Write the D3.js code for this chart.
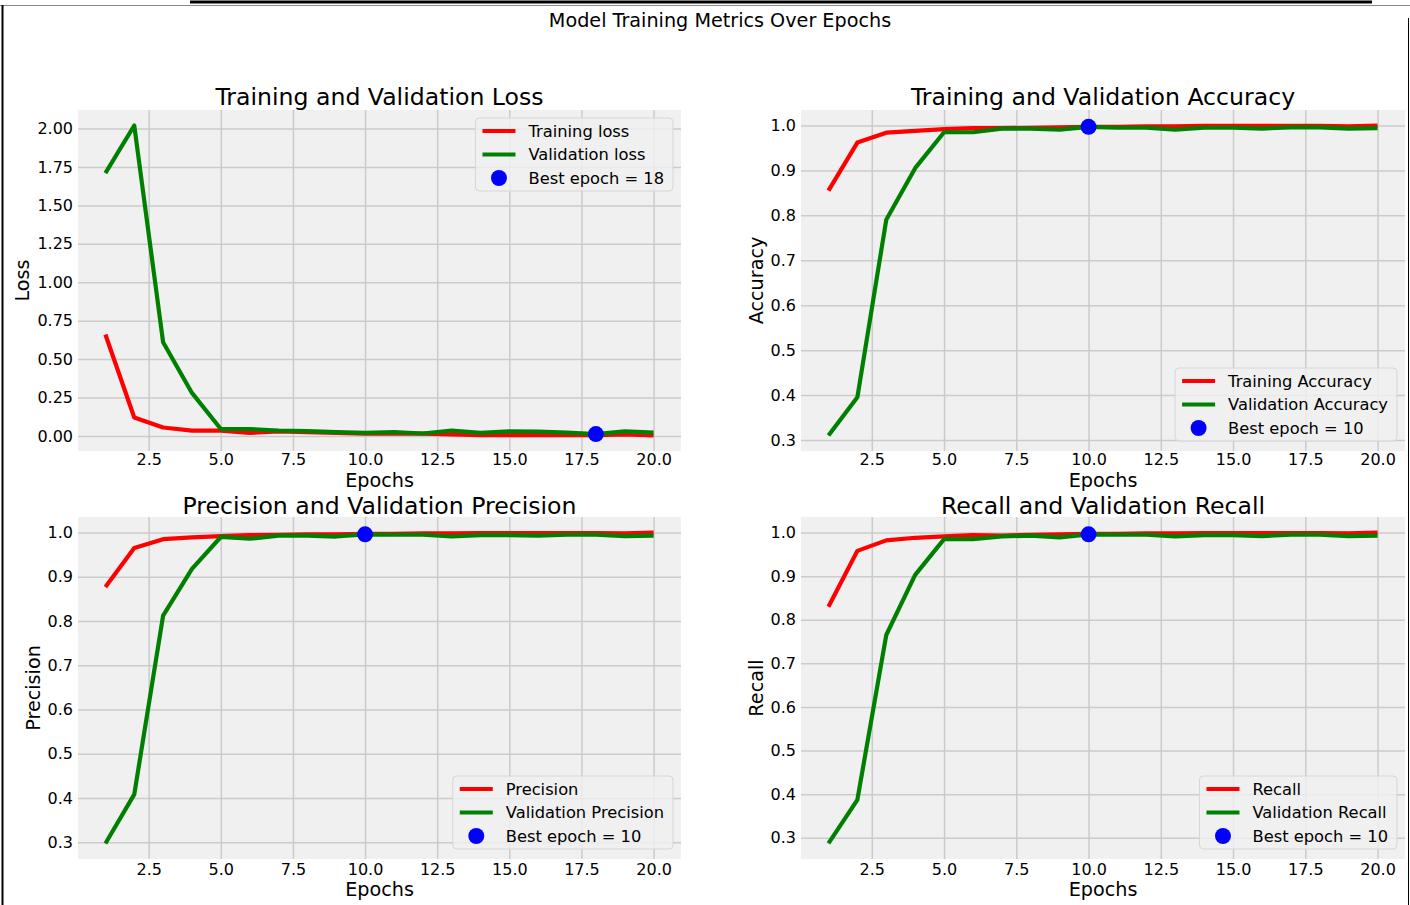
<!DOCTYPE html>
<html>
<head>
<meta charset="utf-8">
<script src="https://cdn.jsdelivr.net/npm/d3@7"></script>
<style>
  body { margin: 0; background: white; }
  svg { display: block; font-family: "DejaVu Sans", sans-serif; }
</style>
</head>
<body>
<div id="chart"></div>
<script>
const epochs = [1, 2, 3, 4, 5, 6, 7, 8, 9, 10, 11, 12, 13, 14, 15, 16, 17, 18, 19, 20];

const trainLoss = [0.66, 0.12, 0.055, 0.035, 0.035, 0.02, 0.03, 0.025, 0.02, 0.015,
                   0.015, 0.015, 0.01, 0.006, 0.006, 0.006, 0.006, 0.006, 0.01, 0.003];
const valLoss = [1.71, 2.02, 0.61, 0.28, 0.045, 0.045, 0.035, 0.032, 0.025, 0.02,
                 0.025, 0.016, 0.035, 0.02, 0.03, 0.028, 0.022, 0.012, 0.03, 0.022];

const trainAcc = [0.855, 0.962, 0.984, 0.988, 0.992, 0.994, 0.994, 0.995, 0.996, 0.997,
                  0.997, 0.998, 0.998, 0.999, 0.999, 0.999, 0.999, 0.999, 0.998, 1.0];
const valAcc = [0.31, 0.395, 0.79, 0.905, 0.985, 0.985, 0.993, 0.993, 0.991, 0.997,
                0.995, 0.995, 0.991, 0.995, 0.995, 0.993, 0.996, 0.996, 0.993, 0.994];

const trainPrec = [0.877, 0.965, 0.985, 0.989, 0.992, 0.994, 0.995, 0.996, 0.996, 0.997,
                   0.997, 0.998, 0.998, 0.999, 0.999, 0.999, 0.999, 0.999, 0.998, 1.0];
const valPrec = [0.297, 0.408, 0.812, 0.918, 0.99, 0.986, 0.993, 0.993, 0.991, 0.996,
                 0.995, 0.995, 0.991, 0.994, 0.994, 0.993, 0.995, 0.995, 0.992, 0.993];

const trainRecall = [0.83, 0.958, 0.982, 0.988, 0.991, 0.994, 0.993, 0.995, 0.996, 0.997,
                     0.997, 0.998, 0.998, 0.999, 0.999, 0.999, 0.999, 0.999, 0.998, 1.0];
const valRecall = [0.287, 0.387, 0.765, 0.903, 0.985, 0.985, 0.991, 0.993, 0.989, 0.996,
                   0.995, 0.995, 0.991, 0.994, 0.994, 0.992, 0.995, 0.995, 0.992, 0.993];

const xTicks = [2.5, 5.0, 7.5, 10.0, 12.5, 15.0, 17.5, 20.0];
const lossTicks = [0, 0.25, 0.5, 0.75, 1.0, 1.25, 1.5, 1.75, 2.0];
const metricTicks = [0.3, 0.4, 0.5, 0.6, 0.7, 0.8, 0.9, 1.0];

const width = 1410, height = 905;

const svg = d3.select("#chart")
  .append("svg")
  .attr("width", width)
  .attr("height", height);

// frame bits of the screenshot
svg.append("line").attr("x1", 190).attr("x2", 1372).attr("y1", 2).attr("y2", 2)
  .attr("stroke", "black").attr("stroke-width", 3);
svg.append("line").attr("x1", 0).attr("x2", width).attr("y1", 5.5).attr("y2", 5.5)
  .attr("stroke", "#888").attr("stroke-width", 1);
svg.append("line").attr("x1", 2.5).attr("x2", 2.5).attr("y1", 5).attr("y2", height)
  .attr("stroke", "black").attr("stroke-width", 2);
svg.append("line").attr("x1", 1408.5).attr("x2", 1408.5).attr("y1", 18).attr("y2", height)
  .attr("stroke", "black").attr("stroke-width", 1);

svg.append("text")
  .attr("x", 720)
  .attr("y", 27)
  .attr("text-anchor", "middle")
  .attr("font-size", 19.2)
  .text("Model Training Metrics Over Epochs");

const cols = [[78, 681], [801, 1405]];
const rows = [[110, 451], [517, 859]];

const panels = [
  {title: "Training and Validation Loss", ylabel: "Loss", train: trainLoss, val: valLoss,
   names: ["Training loss", "Validation loss"], best: "min", yTicks: lossTicks, fmt: ".2f",
   col: 0, row: 0, legend: "upper"},
  {title: "Training and Validation Accuracy", ylabel: "Accuracy", train: trainAcc, val: valAcc,
   names: ["Training Accuracy", "Validation Accuracy"], best: "max", yTicks: metricTicks, fmt: ".1f",
   col: 1, row: 0, legend: "lower"},
  {title: "Precision and Validation Precision", ylabel: "Precision", train: trainPrec, val: valPrec,
   names: ["Precision", "Validation Precision"], best: "max", yTicks: metricTicks, fmt: ".1f",
   col: 0, row: 1, legend: "lower"},
  {title: "Recall and Validation Recall", ylabel: "Recall", train: trainRecall, val: valRecall,
   names: ["Recall", "Validation Recall"], best: "max", yTicks: metricTicks, fmt: ".1f",
   col: 1, row: 1, legend: "lower"}
];

panels.forEach(p => {
  const [x0, x1] = cols[p.col];
  const [y0, y1] = rows[p.row];
  const top = p.row === 0;

  // 5% margins like matplotlib autoscale
  const xPad = (d3.max(epochs) - d3.min(epochs)) * 0.05;
  const all = p.train.concat(p.val);
  const yMin = d3.min(all), yMax = d3.max(all);
  const yPad = (yMax - yMin) * 0.05;

  const xScale = d3.scaleLinear()
    .domain([d3.min(epochs) - xPad, d3.max(epochs) + xPad])
    .range([x0, x1]);
  const yScale = d3.scaleLinear()
    .domain([yMin - yPad, yMax + yPad])
    .range([y1, y0]);

  const g = svg.append("g");

  g.append("rect")
    .attr("x", x0).attr("y", y0)
    .attr("width", x1 - x0).attr("height", y1 - y0)
    .attr("fill", "#f0f0f0");

  // x grid + labels
  const xAxis = g.append("g")
    .attr("transform", `translate(0,${y1})`)
    .call(d3.axisBottom(xScale).tickValues(xTicks).tickFormat(d3.format(".1f"))
      .tickSize(-(y1 - y0)).tickPadding(top ? 3 : 4.5));
  // y grid + labels
  const yAxis = g.append("g")
    .attr("transform", `translate(${x0},0)`)
    .call(d3.axisLeft(yScale).tickValues(p.yTicks).tickFormat(d3.format(p.fmt))
      .tickSize(-(x1 - x0)).tickPadding(5));

  [xAxis, yAxis].forEach(a => {
    a.select(".domain").remove();
    a.selectAll(".tick line").attr("stroke", "#cbcbcb").attr("stroke-width", 1.5);
    a.selectAll(".tick text").attr("font-size", 16).attr("fill", "black")
      .attr("font-family", "DejaVu Sans, sans-serif");
  });

  let tickW = 0;
  yAxis.selectAll(".tick text").each(function() {
    tickW = Math.max(tickW, this.getComputedTextLength());
  });

  // titles and labels
  g.append("text")
    .attr("x", (x0 + x1) / 2)
    .attr("y", y0 - (top ? 5 : 3))
    .attr("text-anchor", "middle")
    .attr("font-size", 23.6)
    .text(p.title);

  g.append("text")
    .attr("x", (x0 + x1) / 2)
    .attr("y", y1 + (top ? 36.3 : 37))
    .attr("text-anchor", "middle")
    .attr("font-size", 19.2)
    .text("Epochs");

  g.append("text")
    .attr("transform", `translate(${x0 - tickW - 13},${(y0 + y1) / 2}) rotate(-90)`)
    .attr("text-anchor", "middle")
    .attr("font-size", 19.2)
    .text(p.ylabel);

  // lines
  const line = vals => d3.line()
    .x((d, i) => xScale(epochs[i]))
    .y(d => yScale(d))(vals);

  g.append("path")
    .attr("d", line(p.train))
    .attr("fill", "none")
    .attr("stroke", "red")
    .attr("stroke-width", 4.2)
    .attr("stroke-linejoin", "round");

  g.append("path")
    .attr("d", line(p.val))
    .attr("fill", "none")
    .attr("stroke", "green")
    .attr("stroke-width", 4.2)
    .attr("stroke-linejoin", "round");

  // best epoch marker
  const bestVal = p.best === "min" ? d3.min(p.val) : d3.max(p.val);
  const bestIdx = p.val.indexOf(bestVal);
  const bestEpoch = epochs[bestIdx];

  g.append("circle")
    .attr("cx", xScale(bestEpoch))
    .attr("cy", yScale(bestVal))
    .attr("r", 8)
    .attr("fill", "blue");

  // legend
  const labels = [p.names[0], p.names[1], `Best epoch = ${bestEpoch}`];
  const leg = g.append("g");
  const box = leg.append("rect")
    .attr("rx", 4)
    .attr("fill", "#f0f0f0")
    .attr("fill-opacity", 0.8)
    .attr("stroke", "#d6d6d6");

  let textW = 0;
  labels.forEach((lab, i) => {
    const ty = 13 + i * 23.5;
    if (i < 2) {
      leg.append("line")
        .attr("x1", 7).attr("x2", 40)
        .attr("y1", ty).attr("y2", ty)
        .attr("stroke", i === 0 ? "red" : "green")
        .attr("stroke-width", 4.2);
    } else {
      leg.append("circle")
        .attr("cx", 23.5).attr("cy", ty)
        .attr("r", 8)
        .attr("fill", "blue");
    }
    const t = leg.append("text")
      .attr("x", 53)
      .attr("y", ty)
      .attr("dy", "0.35em")
      .attr("font-size", 16.3)
      .text(lab);
    textW = Math.max(textW, t.node().getComputedTextLength());
  });

  const legW = 53 + textW + 9;
  const legH = 13 * 2 + 2 * 23.5;
  box.attr("width", legW).attr("height", legH);

  const lx = x1 - 8 - legW;
  const ly = p.legend === "upper" ? y0 + 8 : y1 - 10 - legH;
  leg.attr("transform", `translate(${lx},${ly})`);
});
</script>
</body>
</html>
